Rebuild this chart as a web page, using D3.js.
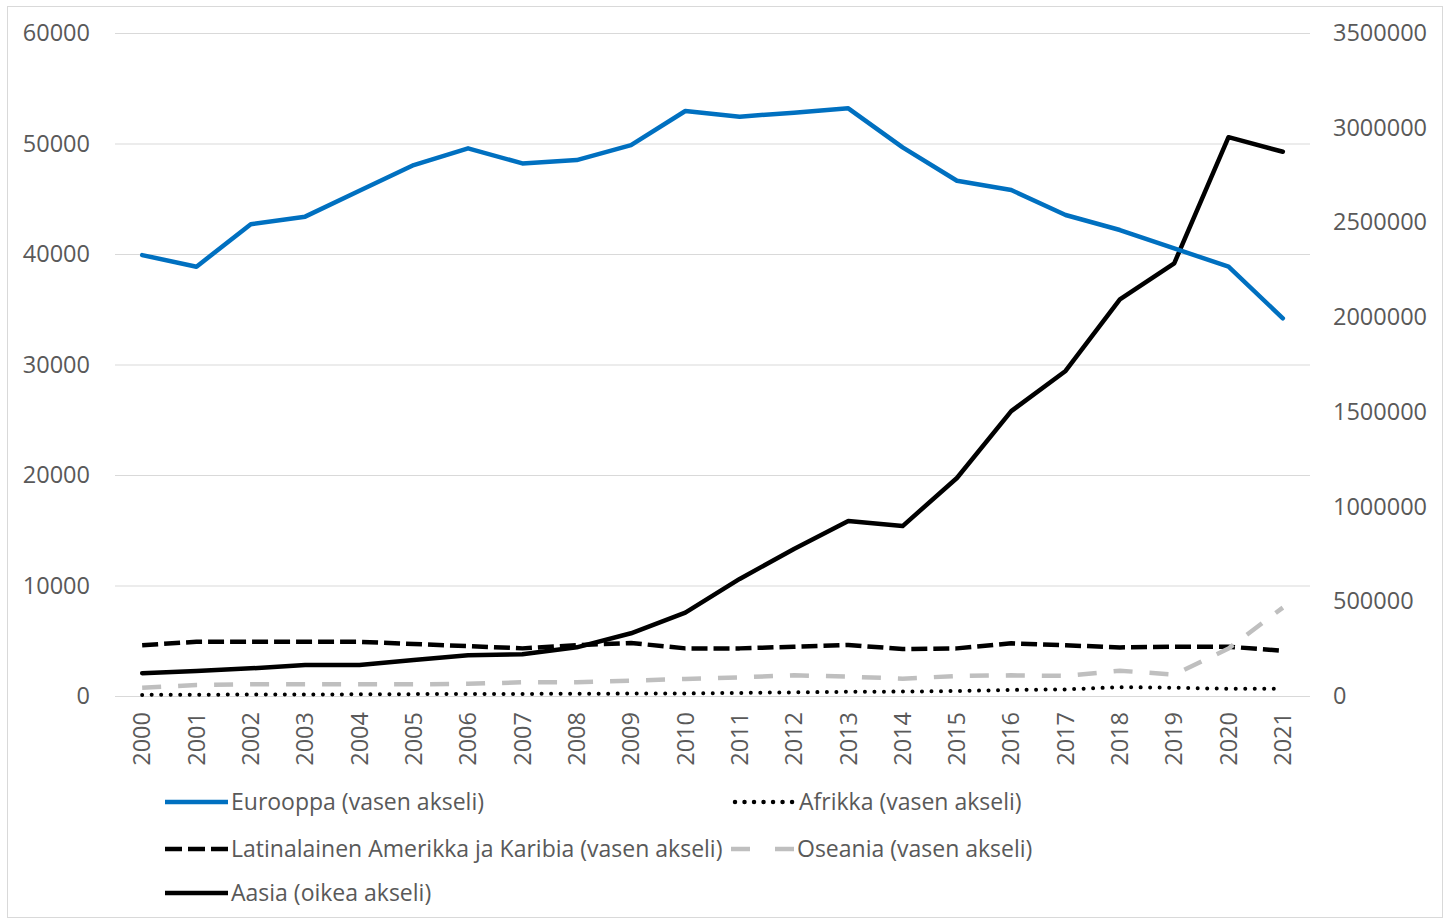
<!DOCTYPE html>
<html><head><meta charset="utf-8">
<script src="https://cdn.jsdelivr.net/npm/d3@7/dist/d3.min.js"></script>
<style>body{margin:0;background:#fff}svg{display:block}text{font-family:"Open Sans",sans-serif;fill:#595959}</style>
</head><body><svg id="c" width="1452" height="922"></svg>
<script>
const years = ["2000","2001","2002","2003","2004","2005","2006","2007","2008","2009","2010","2011","2012","2013","2014","2015","2016","2017","2018","2019","2020","2021"];
const eurooppa = [39900,38850,42700,43380,45730,48050,49560,48200,48500,49860,52940,52430,52790,53180,49650,46630,45790,43530,42170,40510,38850,34180];
const afrikka = [100,120,130,140,150,170,180,190,200,220,230,280,330,380,400,450,550,600,800,750,650,650];
const latinalainen = [4600,4900,4900,4900,4900,4700,4520,4310,4600,4800,4310,4310,4460,4615,4250,4310,4770,4590,4400,4460,4460,4100];
const oseania = [750,1000,1060,1060,1060,1060,1100,1240,1240,1390,1540,1690,1870,1750,1570,1810,1870,1820,2290,1930,4300,8000];
const aasia = [120000,132000,146000,163600,163600,190000,214800,220000,257000,331000,440000,618000,776000,924000,897000,1151000,1504000,1716000,2094000,2284000,2950000,2873000];
const leftTicks = [0,10000,20000,30000,40000,50000,60000];
const rightTicks = [0,500000,1000000,1500000,2000000,2500000,3000000,3500000];
const legendLabels = ["Eurooppa (vasen akseli)","Afrikka (vasen akseli)","Latinalainen Amerikka ja Karibia (vasen akseli)","Oseania (vasen akseli)","Aasia (oikea akseli)"];

const svg = d3.select("#c");
svg.append("rect").attr("x",7.5).attr("y",6.5).attr("width",1435).attr("height",911).attr("fill","#fff").attr("stroke","#d9d9d9").attr("stroke-width",1);

const x = d3.scaleBand().domain(years).range([115,1310]).padding(0);
const cx = d => x(d) + x.bandwidth()/2;
const yL = d3.scaleLinear().domain([0,60000]).range([696,33]);
const yR = d3.scaleLinear().domain([0,3500000]).range([696,33]);
const fs = 23.5, lfs = 23;

// gridlines
svg.append("g").selectAll("line").data(leftTicks).join("line")
  .attr("x1",115).attr("x2",1310).attr("y1",d=>yL(d)+0.5).attr("y2",d=>yL(d)+0.5)
  .attr("stroke","#d9d9d9").attr("stroke-width",1.2);

// left axis
const gl = svg.append("g").attr("transform","translate(90,0)")
  .call(d3.axisLeft(yL).tickValues(leftTicks).tickSize(0).tickPadding(0).tickFormat(d3.format("d")));
gl.select(".domain").remove();
gl.selectAll("text").style("font-size",fs+"px").style("fill","#595959").style("font-family","'Open Sans',sans-serif");

const gr = svg.append("g").attr("transform","translate(1333,0)")
  .call(d3.axisRight(yR).tickValues(rightTicks).tickSize(0).tickPadding(0).tickFormat(d3.format("d")));
gr.select(".domain").remove();
gr.selectAll("text").style("font-size",fs+"px").style("fill","#595959").style("font-family","'Open Sans',sans-serif");

// x labels
const gx = svg.append("g").attr("transform","translate(0,712)")
  .call(d3.axisBottom(x).tickSize(0).tickPadding(0));
gx.select(".domain").remove();
gx.selectAll("text").style("font-size",fs+"px").style("fill","#595959").style("font-family","'Open Sans',sans-serif")
  .attr("transform","rotate(-90)").attr("text-anchor","end").attr("x",0).attr("y",0).attr("dy","0.35em");

const series = [
  {data:latinalainen, y:yL, color:"#000", w:4.5, dash:"16,6", cap:"butt"},
  {data:oseania, y:yL, color:"#bfbfbf", w:4.5, dash:"19,17", cap:"butt"},
  {data:afrikka, y:yL, color:"#000", w:4, dash:"0.01,9.5", cap:"round"},
  {data:aasia, y:yR, color:"#000", w:4.5, dash:null, cap:"round"},
  {data:eurooppa, y:yL, color:"#0070c0", w:4.5, dash:null, cap:"round"}
];
series.forEach(s=>{
  const line = d3.line().x((d,i)=>cx(years[i])).y(d=>s.y(d));
  svg.append("path").attr("d",line(s.data)).attr("fill","none").attr("stroke",s.color)
    .attr("stroke-width",s.w).attr("stroke-dasharray",s.dash).attr("stroke-linecap",s.cap).attr("stroke-linejoin","round");
});

// legend
const leg = [
  {label:legendLabels[0], x:165, y:802, color:"#0070c0", dash:null, cap:"butt"},
  {label:legendLabels[1], x:733, y:802, color:"#000", dash:"0.01,9.5", cap:"round"},
  {label:legendLabels[2], x:165, y:849, color:"#000", dash:"17,6", cap:"butt"},
  {label:legendLabels[3], x:731, y:849, color:"#bfbfbf", dash:"19,25", cap:"butt"},
  {label:legendLabels[4], x:165, y:893, color:"#000", dash:null, cap:"butt"}
];
leg.forEach(l=>{
  svg.append("line").attr("x1",l.x+(l.cap==="round"?2:0)).attr("x2",l.x+63).attr("y1",l.y).attr("y2",l.y)
    .attr("stroke",l.color).attr("stroke-width",4.5).attr("stroke-dasharray",l.dash).attr("stroke-linecap",l.cap);
  svg.append("text").attr("x",l.x+66).attr("y",l.y).attr("dy","0.35em").style("font-size",lfs+"px").text(l.label);
});
</script></body></html>
